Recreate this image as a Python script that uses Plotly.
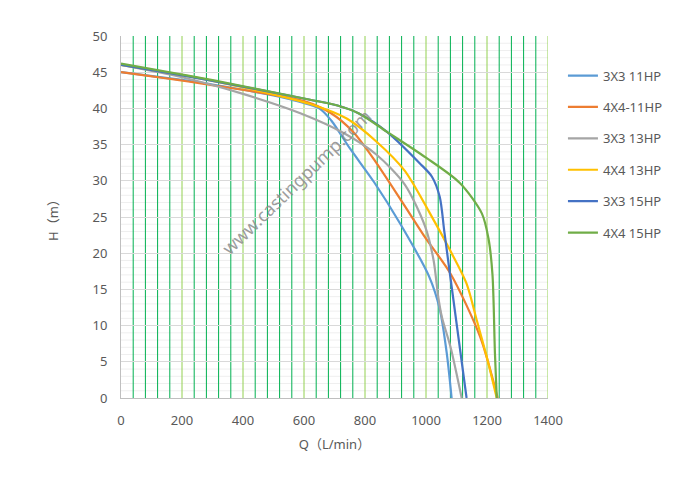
import plotly.graph_objects as go

# pump curves, Q (L/min) vs H (m)
q_3x3_11 = [0, 300, 550, 650, 690, 750, 830, 915, 1010, 1045, 1068, 1084]
h_3x3_11 = [45, 43.3, 41.3, 40, 38.3, 34.5, 29.8, 24.1, 16.8, 12.3, 6.2, 0]

q_4x4_11 = [0, 300, 600, 690, 760, 827, 920, 1000, 1080, 1177, 1235]
h_4x4_11 = [45, 43.2, 41, 39.3, 36.8, 33.1, 27.2, 22, 17.2, 8.5, 0]

q_3x3_13 = [0, 200, 400, 590, 730, 838, 930, 997, 1025, 1040, 1052, 1080, 1117]
h_3x3_13 = [46, 44.3, 42, 39.3, 36.6, 33.6, 29.5, 23.7, 19, 14, 11.2, 7.1, 0]

q_4x4_13 = [0, 300, 620, 740, 838, 930, 1013, 1079, 1133, 1166, 1199, 1232]
h_4x4_13 = [46, 43.8, 40.6, 38.6, 35.4, 31.4, 25.5, 20.4, 15.8, 10.8, 5.7, 0]

q_3x3_15 = [0, 300, 620, 710, 780, 871, 980, 1019, 1045, 1060, 1084, 1133]
h_3x3_15 = [46, 43.8, 41.2, 40.4, 39.3, 36.8, 32.4, 30.6, 27.8, 23, 15.4, 0]

q_4x4_15 = [0, 300, 620, 710, 780, 871, 1000, 1111, 1183, 1205, 1218, 1226, 1232]
h_4x4_15 = [46.2, 43.9, 41.2, 40.4, 39.3, 36.8, 33.2, 29.7, 25.5, 22, 17, 6.2, 0]

series = [
    ('3X3 11HP', q_3x3_11, h_3x3_11, '#5B9BD5'),
    ('4X4-11HP', q_4x4_11, h_4x4_11, '#ED7D31'),
    ('3X3 13HP', q_3x3_13, h_3x3_13, '#A5A5A5'),
    ('4X4 13HP', q_4x4_13, h_4x4_13, '#FFC000'),
    ('3X3 15HP', q_3x3_15, h_3x3_15, '#4472C4'),
    ('4X4 15HP', q_4x4_15, h_4x4_15, '#70AD47'),
]

FONT = 'Noto Sans, Noto Sans CJK SC'
TEXT = '#595959'

fig = go.Figure()
for name, q, h, color in series:
    fig.add_trace(go.Scatter(
        x=q, y=h, name=name, mode='lines', legendgroup=name,
        line=dict(color=color, width=2.2, shape='spline', smoothing=0.8)
    ))

# light horizontal minor grid under everything
for gy in range(1, 50):
    if gy % 5:
        fig.add_shape(
            type='line', xref='paper', yref='y', x0=0, x1=1, y0=gy, y1=gy,
            layer='below', line=dict(color='#EFEFEF', width=1)
        )

# vertical grid drawn above the horizontal grid, like the original
for gx in range(40, 1401, 40):
    fig.add_shape(
        type='line', xref='x', yref='paper', x0=gx, x1=gx, y0=0, y1=1,
        layer='between',
        line=dict(color='#92D050' if gx % 200 == 0 else '#00B050', width=1)
    )

fig.add_annotation(
    text='www.castingpump.com', xref='paper', yref='paper',
    x=0.41, y=0.597, showarrow=False, textangle=-44,
    font=dict(family=FONT, size=18, color='rgba(140,140,140,0.85)')
)

fig.update_layout(
    width=682, height=486,
    paper_bgcolor='white', plot_bgcolor='rgba(0,0,0,0)',
    font=dict(family=FONT, size=13, color=TEXT),
    margin=dict(l=113, r=142, t=28, b=96),
    showlegend=True,
    legend=dict(
        x=1.035, y=0.932, xanchor='left', yanchor='top',
        font=dict(family=FONT, size=13, color=TEXT),
        tracegroupgap=11.5, itemwidth=30
    ),
    xaxis=dict(
        range=[0, 1400], dtick=200, tick0=0,
        showgrid=False,
        showline=True, linecolor='#BFBFBF', linewidth=1,
        zeroline=False, ticks='', ticklabelstandoff=10,
        title=dict(text='Q（L/min）', font=dict(family=FONT, size=13, color=TEXT), standoff=12),
    ),
    yaxis=dict(
        range=[0, 50], dtick=5, tick0=0,
        showgrid=True, gridcolor='#D9D9D9', gridwidth=1,
        showline=True, linecolor='#BFBFBF', linewidth=1,
        zeroline=False, ticks='', ticklabelstandoff=10,
        title=dict(text='H（m）', font=dict(family=FONT, size=13, color=TEXT), standoff=30),
    ),
)

fig.write_html('out.html')
